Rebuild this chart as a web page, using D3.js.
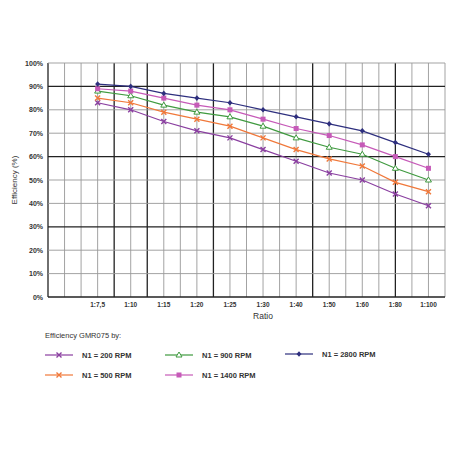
<!DOCTYPE html>
<html><head><meta charset="utf-8">
<script src="https://cdn.jsdelivr.net/npm/d3@7"></script>
<style>body{margin:0;background:#fff}text{font-family:"Liberation Sans",Arial,sans-serif}</style>
</head><body><div id="chart"></div>
<script>
const ratios = ["1:7,5","1:10","1:15","1:20","1:25","1:30","1:40","1:50","1:60","1:80","1:100"];
const rpm200  = [83,80,75,71,68,63,58,53,50,44,39];
const rpm500  = [85,83,79,76,73,68,63,59,56,49,45];
const rpm900  = [88,86,82,79,77,73,68,64,61,55,50];
const rpm1400 = [89,88,85,82,80,76,72,69,65,60,55];
const rpm2800 = [91,90,87,85,83,80,77,74,71,66,61];
const yTicks = d3.range(0, 101, 10);

const series = [
  {name:"N1 = 200  RPM", vals:rpm200, color:"#8a3fa0", sym:"x"},
  {name:"N1 = 500  RPM", vals:rpm500, color:"#f0783a", sym:"x"},
  {name:"N1 = 900  RPM", vals:rpm900, color:"#3f9a3f", sym:"tri"},
  {name:"N1 = 1400  RPM", vals:rpm1400, color:"#c65ab8", sym:"sq"},
  {name:"N1 = 2800  RPM", vals:rpm2800, color:"#2e2f7e", sym:"dia"}
];

const W = 452, H = 452, L = 48, R = 445, T = 63, B = 297;
const svg = d3.select("#chart").append("svg").attr("width", W).attr("height", H);

// 24 grid columns, categories sit on odd-ish lines 3,5,...,23
const col = d3.scaleLinear().domain([0, 24]).range([L, R]);
const x = i => col(3 + 2 * i);
const y = d3.scaleLinear().domain([0, 100]).range([B, T]);

const thickCols = [0, 4, 6, 10, 16, 21];
d3.range(0, 25).forEach(c => {
  svg.append("line").attr("x1", col(c)).attr("x2", col(c)).attr("y1", T).attr("y2", B)
    .attr("stroke", thickCols.includes(c) ? "#222" : "#999")
    .attr("stroke-width", thickCols.includes(c) ? 1.3 : 0.9);
});
yTicks.forEach(v => {
  const thick = [0, 30, 60, 90].includes(v);
  svg.append("line").attr("x1", L).attr("x2", R).attr("y1", y(v)).attr("y2", y(v))
    .attr("stroke", thick ? "#222" : "#999").attr("stroke-width", thick ? 1.3 : 0.9);
  svg.append("text").attr("x", L - 5).attr("y", y(v) + 2.5).attr("text-anchor", "end")
    .attr("font-size", 7).attr("font-weight", "bold").attr("fill", "#333").text(v + "%");
});
ratios.forEach((r, i) => {
  svg.append("text").attr("x", x(i)).attr("y", B + 10).attr("text-anchor", "middle")
    .attr("font-size", 6.5).attr("font-weight", "bold").attr("fill", "#333").text(r);
});
svg.append("text").attr("x", x(5)).attr("y", B + 22).attr("text-anchor", "middle")
  .attr("font-size", 8.5).attr("fill", "#333").text("Ratio");
svg.append("text").attr("transform", `translate(17,${(T + B) / 2}) rotate(-90)`)
  .attr("text-anchor", "middle").attr("font-size", 8).attr("fill", "#333").text("Efficiency (%)");

function marker(g, sym, cx, cy, color) {
  if (sym === "x") {
    g.append("path").attr("d", `M${cx-2.5},${cy-2.5}L${cx+2.5},${cy+2.5}M${cx-2.5},${cy+2.5}L${cx+2.5},${cy-2.5}`)
      .attr("stroke", color).attr("stroke-width", 1.4);
  } else if (sym === "tri") {
    g.append("path").attr("d", `M${cx},${cy-3}L${cx+3},${cy+2}L${cx-3},${cy+2}Z`)
      .attr("fill", "#fff").attr("stroke", color).attr("stroke-width", 1);
  } else if (sym === "sq") {
    g.append("rect").attr("x", cx - 2.5).attr("y", cy - 2.5).attr("width", 5).attr("height", 5).attr("fill", color);
  } else {
    g.append("path").attr("d", `M${cx},${cy-2.8}L${cx+2.5},${cy}L${cx},${cy+2.8}L${cx-2.5},${cy}Z`).attr("fill", color);
  }
}

const line = d3.line().x((d, i) => x(i)).y(d => y(d));
series.forEach(s => {
  const g = svg.append("g");
  g.append("path").attr("d", line(s.vals)).attr("fill", "none").attr("stroke", s.color).attr("stroke-width", 1.2);
  s.vals.forEach((v, i) => marker(g, s.sym, x(i), y(v), s.color));
});

// legend
svg.append("text").attr("x", 45).attr("y", 338).attr("font-size", 7.5).attr("fill", "#333").text("Efficiency GMR075 by:");
const pos = [[45,355],[45,375],[165,355],[165,375],[285,354]];
series.forEach((s, i) => {
  const [lx, ly] = pos[i];
  const g = svg.append("g");
  g.append("line").attr("x1", lx).attr("x2", lx + 28).attr("y1", ly).attr("y2", ly).attr("stroke", s.color).attr("stroke-width", 1.2);
  marker(g, s.sym, lx + 14, ly, s.color);
  g.append("text").attr("x", lx + 37).attr("y", ly + 3).attr("font-size", 7.5).attr("font-weight", "bold")
    .attr("fill", "#333").text(s.name);
});
</script></body></html>
